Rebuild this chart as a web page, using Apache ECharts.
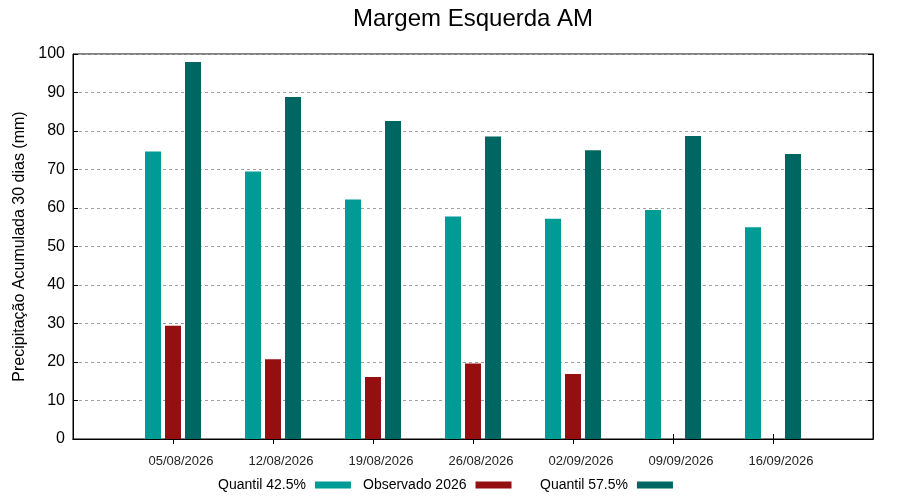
<!DOCTYPE html>
<html>
<head>
<meta charset="utf-8">
<title>Margem Esquerda AM</title>
<script src="https://cdn.jsdelivr.net/npm/echarts@6/dist/echarts.min.js"></script>
<style>
  html, body { margin: 0; padding: 0; background: #fff; }
  #chart { width: 900px; height: 500px; }
</style>
</head>
<body>
<div id="chart"></div>
<script>
// datas (com posições vazias nas pontas do eixo)
var datas = ['', '05/08/2026', '12/08/2026', '19/08/2026', '26/08/2026', '02/09/2026', '09/09/2026', '16/09/2026', ''];
// Quantil 42.5%
var quantil425 = [null, 74.7, 69.5, 62.2, 57.8, 57.2, 59.5, 55.0, null];
// Observado 2026
var observado = [null, 29.4, 20.7, 16.1, 19.6, 16.9, null, null, null];
// Quantil 57.5%
var quantil575 = [null, 97.9, 88.8, 82.6, 78.6, 75.0, 78.7, 74.0, null];

var chart = echarts.init(document.getElementById('chart'));
var fonte = 'Liberation Sans, Arial, sans-serif';

// legenda: texto antes do quadradinho
function legenda(nome, x) {
    return {
        data: [nome], left: x, top: 478, align: 'right', padding: 0,
        icon: 'rect', itemWidth: 36, itemHeight: 7, itemGap: 0,
        textStyle: { fontSize: 14, color: '#000', padding: [0, 4, 0, 0] }
    };
}
// só marca as datas, não as pontas
function tickDatas(i) {
    return i > 0 && i < datas.length - 1;
}

option = {
    animation: false,
    textStyle: { fontFamily: fonte },
    title: {
        text: 'Margem Esquerda AM',
        left: 353,
        top: 7,
        padding: 0,
        textStyle: { fontSize: 24, fontWeight: 'normal', color: '#000', fontFamily: fonte }
    },
    legend: [
        legenda('Quantil 42.5%', 218),
        legenda('Observado 2026', 363),
        legenda('Quantil 57.5%', 540)
    ],
    grid: {
        left: 73,
        right: 27,
        top: 54,
        bottom: 61,
        outerBoundsMode: 'none',
        show: true,
        borderColor: '#000',
        borderWidth: 1
    },
    xAxis: [
        {
            type: 'category',
            data: datas,
            boundaryGap: false,
            position: 'bottom',
            axisLine: { show: true, lineStyle: { color: '#000' } },
            axisTick: { show: true, inside: true, length: 5, interval: tickDatas, lineStyle: { color: '#000' } },
            axisLabel: { fontSize: 13, color: '#222', margin: 16, padding: [0, 0, 0, 16], interval: 0 },
            splitLine: { show: false }
        },
        {
            type: 'category',
            data: datas,
            boundaryGap: false,
            position: 'top',
            axisLine: { show: true, lineStyle: { color: '#000' } },
            axisTick: { show: true, inside: true, length: 5, interval: tickDatas, lineStyle: { color: '#000' } },
            axisLabel: { show: false },
            splitLine: { show: false }
        }
    ],
    yAxis: [
        {
            type: 'value',
            min: 0,
            max: 100,
            interval: 10,
            name: 'Precipitação Acumulada 30 dias (mm)',
            nameLocation: 'middle',
            nameGap: 41,
            nameTextStyle: { fontSize: 16, color: '#000' },
            axisLine: { show: true, lineStyle: { color: '#000' } },
            axisTick: { show: true, inside: true, length: 5, lineStyle: { color: '#000' } },
            axisLabel: { fontSize: 16, color: '#000', margin: 8 },
            splitLine: { show: true, lineStyle: { color: '#a0a0a0', type: [3, 3], width: 1 } }
        },
        {
            type: 'value',
            min: 0,
            max: 100,
            interval: 10,
            position: 'right',
            axisLine: { show: true, lineStyle: { color: '#000' } },
            axisTick: { show: true, inside: true, length: 5, lineStyle: { color: '#000' } },
            axisLabel: { show: false },
            splitLine: { show: false }
        }
    ],
    series: [
        {
            name: 'Quantil 42.5%',
            type: 'bar',
            data: quantil425,
            barWidth: 16,
            barGap: '25%',
            itemStyle: { color: '#009b95' }
        },
        {
            name: 'Observado 2026',
            type: 'bar',
            data: observado,
            barWidth: 16,
            barGap: '25%',
            itemStyle: { color: '#940f10' }
        },
        {
            name: 'Quantil 57.5%',
            type: 'bar',
            data: quantil575,
            barWidth: 16,
            barGap: '25%',
            itemStyle: { color: '#006661' }
        }
    ]
};
chart.setOption(option);
</script>
</body>
</html>
